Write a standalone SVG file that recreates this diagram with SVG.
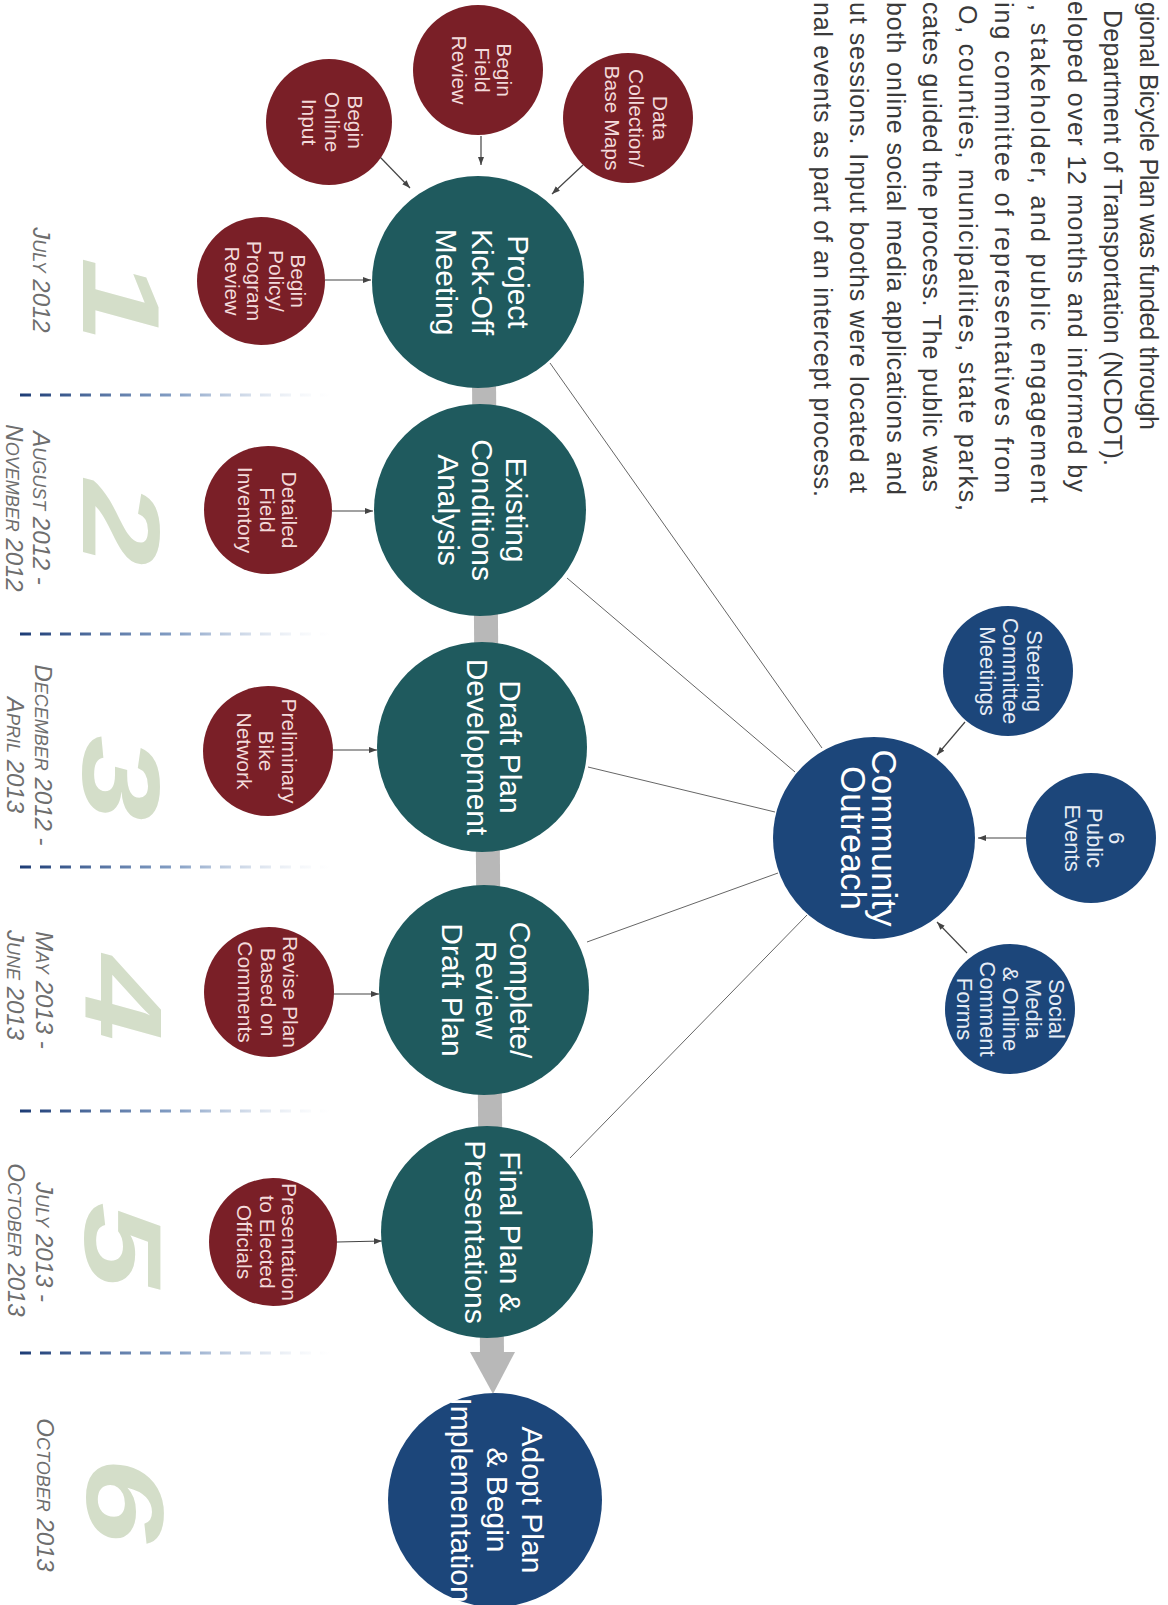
<svg xmlns="http://www.w3.org/2000/svg" width="1168" height="1605" viewBox="0 0 1168 1605">
<defs>
<style>
.teal{fill:#1f5a5e}
.maroon{fill:#7a1f27}
.blue{fill:#1c467a}
.main{font-family:"Liberation Sans",Arial,sans-serif;font-size:30px;fill:#ffffff;text-anchor:middle}
.co{font-family:"Liberation Sans",Arial,sans-serif;font-size:35px;fill:#ffffff;text-anchor:middle}
.sat{font-family:"Liberation Sans",Arial,sans-serif;font-size:21px;fill:#f3dada;text-anchor:middle}
.satb{font-family:"Liberation Sans",Arial,sans-serif;font-size:22px;fill:#e6ecf5;text-anchor:middle}
.date{font-family:"Liberation Sans",Arial,sans-serif;font-style:italic;font-size:24px;fill:#6e6e6e;text-anchor:middle}
.sc{font-size:18px}
.num{font-family:"Liberation Sans",Arial,sans-serif;font-weight:bold;font-style:italic;font-size:110px;fill:#d4dec9;text-anchor:middle}
.intro{font-family:"Liberation Sans",Arial,sans-serif;font-size:25px;fill:#3a3a3a}
.arrow{stroke:#444;stroke-width:1.2;fill:none;marker-end:url(#ah)}
.link{stroke:#666;stroke-width:1;fill:none}
.dash{stroke:url(#dg);stroke-width:3;stroke-dasharray:11 9}
</style>
<marker id="ah" markerUnits="userSpaceOnUse" markerWidth="9" markerHeight="7" refX="8" refY="3" orient="auto">
<path d="M0,0 L8,3 L0,6 z" fill="#444"/>
</marker>
<linearGradient id="dg" gradientUnits="userSpaceOnUse" x1="20" y1="0" x2="330" y2="0">
<stop offset="0" stop-color="#1d3c75" stop-opacity="1"/>
<stop offset="0.5" stop-color="#4f75ab" stop-opacity="0.7"/>
<stop offset="1" stop-color="#c8d4e6" stop-opacity="0"/>
</linearGradient>
</defs>
<rect width="1168" height="1605" fill="#ffffff"/>

<g id="intro">
<text class="intro" transform="translate(1140,2) rotate(90)" textLength="428" lengthAdjust="spacing">gional Bicycle Plan was funded through</text>
<text class="intro" transform="translate(1104,10) rotate(90)" textLength="456" lengthAdjust="spacing">Department of Transportation (NCDOT).</text>
<text class="intro" transform="translate(1068,1) rotate(90)" textLength="491" lengthAdjust="spacing">eloped over 12 months and informed by</text>
<text class="intro" transform="translate(1031,4) rotate(90)" textLength="499" lengthAdjust="spacing">, stakeholder, and public engagement</text>
<text class="intro" transform="translate(995,2) rotate(90)" textLength="491" lengthAdjust="spacing">ing committee of representatives from</text>
<text class="intro" transform="translate(959,5) rotate(90)" textLength="506" lengthAdjust="spacing">O, counties, municipalities, state parks,</text>
<text class="intro" transform="translate(923,2) rotate(90)" textLength="490" lengthAdjust="spacing">cates guided the process. The public was</text>
<text class="intro" transform="translate(887,2) rotate(90)" textLength="493" lengthAdjust="spacing">both online social media applications and</text>
<text class="intro" transform="translate(850,2) rotate(90)" textLength="491" lengthAdjust="spacing">ut sessions. Input booths were located at</text>
<text class="intro" transform="translate(814,2) rotate(90)" textLength="495" lengthAdjust="spacing">nal events as part of an intercept process.</text>
</g>

<g id="timeline">
<line class="dash" x1="20" y1="395" x2="330" y2="395"/>
<line class="dash" x1="20" y1="634" x2="330" y2="634"/>
<line class="dash" x1="20" y1="867" x2="330" y2="867"/>
<line class="dash" x1="20" y1="1111" x2="330" y2="1111"/>
<line class="dash" x1="20" y1="1353" x2="330" y2="1353"/>
<text class="num" transform="translate(83,300) rotate(90) scale(1.4,1)">1</text>
<text class="num" transform="translate(83,523) rotate(90) scale(1.4,1)">2</text>
<text class="num" transform="translate(83,778) rotate(90) scale(1.4,1)">3</text>
<text class="num" transform="translate(86,998) rotate(90) scale(1.4,1)">4</text>
<text class="num" transform="translate(85,1245) rotate(90) scale(1.4,1)">5</text>
<text class="num" transform="translate(87,1500) rotate(90) scale(1.4,1)">6</text>
<text class="date" transform="translate(33,280) rotate(90)">J<tspan class="sc">ULY</tspan> 2012</text>
<text class="date" transform="translate(33,508) rotate(90)">A<tspan class="sc">UGUST</tspan> 2012 -</text>
<text class="date" transform="translate(6,508) rotate(90)">N<tspan class="sc">OVEMBER</tspan>  2012</text>
<text class="date" transform="translate(35,755) rotate(90)">D<tspan class="sc">ECEMBER</tspan> 2012 -</text>
<text class="date" transform="translate(7,755) rotate(90)">A<tspan class="sc">PRIL</tspan> 2013</text>
<text class="date" transform="translate(36,990) rotate(90)">M<tspan class="sc">AY</tspan> 2013 -</text>
<text class="date" transform="translate(7,985) rotate(90)">J<tspan class="sc">UNE</tspan> 2013</text>
<text class="date" transform="translate(36,1242) rotate(90)">J<tspan class="sc">ULY</tspan> 2013 -</text>
<text class="date" transform="translate(8,1240) rotate(90)">O<tspan class="sc">CTOBER</tspan> 2013</text>
<text class="date" transform="translate(37,1495) rotate(90)">O<tspan class="sc">CTOBER</tspan> 2013</text>
</g>

<g id="connectors">
<line x1="484" y1="380" x2="492" y2="1356" stroke="#b8b8b8" stroke-width="24"/>
<polygon points="470,1352 515,1352 493,1394" fill="#b8b8b8"/>
<line class="link" x1="550" y1="363" x2="822" y2="748"/>
<line class="link" x1="567" y1="578" x2="795" y2="772"/>
<line class="link" x1="588" y1="767" x2="775" y2="812"/>
<line class="link" x1="587" y1="942" x2="778" y2="873"/>
<line class="link" x1="570" y1="1158" x2="807" y2="915"/>
<line class="arrow" x1="325" y1="280" x2="371" y2="280"/>
<line class="arrow" x1="380" y1="157" x2="410" y2="188"/>
<line class="arrow" x1="481" y1="136" x2="481" y2="165"/>
<line class="arrow" x1="583" y1="165" x2="552" y2="194"/>
<line class="arrow" x1="332" y1="511" x2="373" y2="511"/>
<line class="arrow" x1="333" y1="750" x2="377" y2="750"/>
<line class="arrow" x1="333" y1="994" x2="379" y2="994"/>
<line class="arrow" x1="337" y1="1242" x2="382" y2="1241"/>
<line class="arrow" x1="965" y1="722" x2="937" y2="755"/>
<line class="arrow" x1="1026" y1="838" x2="978" y2="838"/>
<line class="arrow" x1="967" y1="953" x2="937" y2="922"/>
</g>

<g id="n-kickoff">
<circle class="teal" cx="478" cy="282" r="106"/>
<text class="main" transform="translate(478,282) rotate(90)"><tspan x="0" y="-30">Project</tspan><tspan x="0" y="6">Kick-Off</tspan><tspan x="0" y="42">Meeting</tspan></text>
</g>
<g id="n-existing">
<circle class="teal" cx="480" cy="510" r="106"/>
<text class="main" transform="translate(480,510) rotate(90)"><tspan x="0" y="-26">Existing</tspan><tspan x="0" y="8">Conditions</tspan><tspan x="0" y="42">Analysis</tspan></text>
</g>
<g id="n-draft">
<circle class="teal" cx="482" cy="747" r="105"/>
<text class="main" transform="translate(482,747) rotate(90)"><tspan x="0" y="-18">Draft Plan</tspan><tspan x="0" y="15">Development</tspan></text>
</g>
<g id="n-complete">
<circle class="teal" cx="484" cy="990" r="105"/>
<text class="main" transform="translate(484,990) rotate(90)"><tspan x="0" y="-26">Complete/</tspan><tspan x="0" y="8">Review</tspan><tspan x="0" y="42">Draft Plan</tspan></text>
</g>
<g id="n-final">
<circle class="teal" cx="487" cy="1232" r="106"/>
<text class="main" transform="translate(487,1232) rotate(90)"><tspan x="0" y="-13">Final Plan &amp;</tspan><tspan x="0" y="22">Presentations</tspan></text>
</g>
<g id="n-adopt">
<circle class="blue" cx="495" cy="1500" r="107"/>
<text class="main" transform="translate(495,1500) rotate(90)"><tspan x="0" y="-27">Adopt Plan</tspan><tspan x="0" y="8">&amp; Begin</tspan><tspan x="0" y="44">Implementation</tspan></text>
</g>

<g id="n-policy">
<circle class="maroon" cx="261" cy="281" r="64"/>
<text class="sat" transform="translate(261,281) rotate(90)"><tspan x="0" y="-30">Begin</tspan><tspan x="0" y="-8">Policy/</tspan><tspan x="0" y="14">Program</tspan><tspan x="0" y="36">Review</tspan></text>
</g>
<g id="n-online">
<circle class="maroon" cx="329" cy="122" r="63"/>
<text class="sat" transform="translate(329,122) rotate(90)"><tspan x="0" y="-19">Begin</tspan><tspan x="0" y="4">Online</tspan><tspan x="0" y="27">Input</tspan></text>
</g>
<g id="n-field">
<circle class="maroon" cx="478" cy="70" r="65"/>
<text class="sat" transform="translate(478,70) rotate(90)"><tspan x="0" y="-19">Begin</tspan><tspan x="0" y="3">Field</tspan><tspan x="0" y="26">Review</tspan></text>
</g>
<g id="n-data">
<circle class="maroon" cx="628" cy="118" r="65"/>
<text class="sat" transform="translate(628,118) rotate(90)"><tspan x="0" y="-25">Data</tspan><tspan x="0" y="-1">Collection/</tspan><tspan x="0" y="23">Base Maps</tspan></text>
</g>
<g id="n-detailed">
<circle class="maroon" cx="268" cy="510" r="64"/>
<text class="sat" transform="translate(268,510) rotate(90)"><tspan x="0" y="-14">Detailed</tspan><tspan x="0" y="8">Field</tspan><tspan x="0" y="30">Inventory</tspan></text>
</g>
<g id="n-prelim">
<circle class="maroon" cx="268" cy="751" r="65"/>
<text class="sat" transform="translate(268,751) rotate(90)"><tspan x="0" y="-14">Preliminary</tspan><tspan x="0" y="9">Bike</tspan><tspan x="0" y="31">Network</tspan></text>
</g>
<g id="n-revise">
<circle class="maroon" cx="269" cy="992" r="65"/>
<text class="sat" transform="translate(269,992) rotate(90)"><tspan x="0" y="-14">Revise Plan</tspan><tspan x="0" y="8">Based on</tspan><tspan x="0" y="31">Comments</tspan></text>
</g>
<g id="n-presentation">
<circle class="maroon" cx="273" cy="1242" r="64"/>
<text class="sat" transform="translate(273,1242) rotate(90)"><tspan x="0" y="-9">Presentation</tspan><tspan x="0" y="13">to Elected</tspan><tspan x="0" y="36">Officials</tspan></text>
</g>

<g id="n-community">
<circle class="blue" cx="874" cy="838" r="101"/>
<text class="co" transform="translate(874,838) rotate(90)"><tspan x="0" y="2">Community</tspan><tspan x="0" y="33">Outreach</tspan></text>
</g>
<g id="n-steering">
<circle class="blue" cx="1008" cy="671" r="65"/>
<text class="satb" transform="translate(1008,671) rotate(90)"><tspan x="0" y="-19">Steering</tspan><tspan x="0" y="5">Committee</tspan><tspan x="0" y="28">Meetings</tspan></text>
</g>
<g id="n-public">
<circle class="blue" cx="1091" cy="838" r="65"/>
<text class="satb" transform="translate(1091,838) rotate(90)"><tspan x="0" y="-18">6</tspan><tspan x="0" y="4">Public</tspan><tspan x="0" y="26">Events</tspan></text>
</g>
<g id="n-social">
<circle class="blue" cx="1010" cy="1009" r="65"/>
<text class="satb" transform="translate(1010,1009) rotate(90)"><tspan x="0" y="-39">Social</tspan><tspan x="0" y="-16">Media</tspan><tspan x="0" y="7">&amp; Online</tspan><tspan x="0" y="30">Comment</tspan><tspan x="0" y="53">Forms</tspan></text>
</g>
</svg>
